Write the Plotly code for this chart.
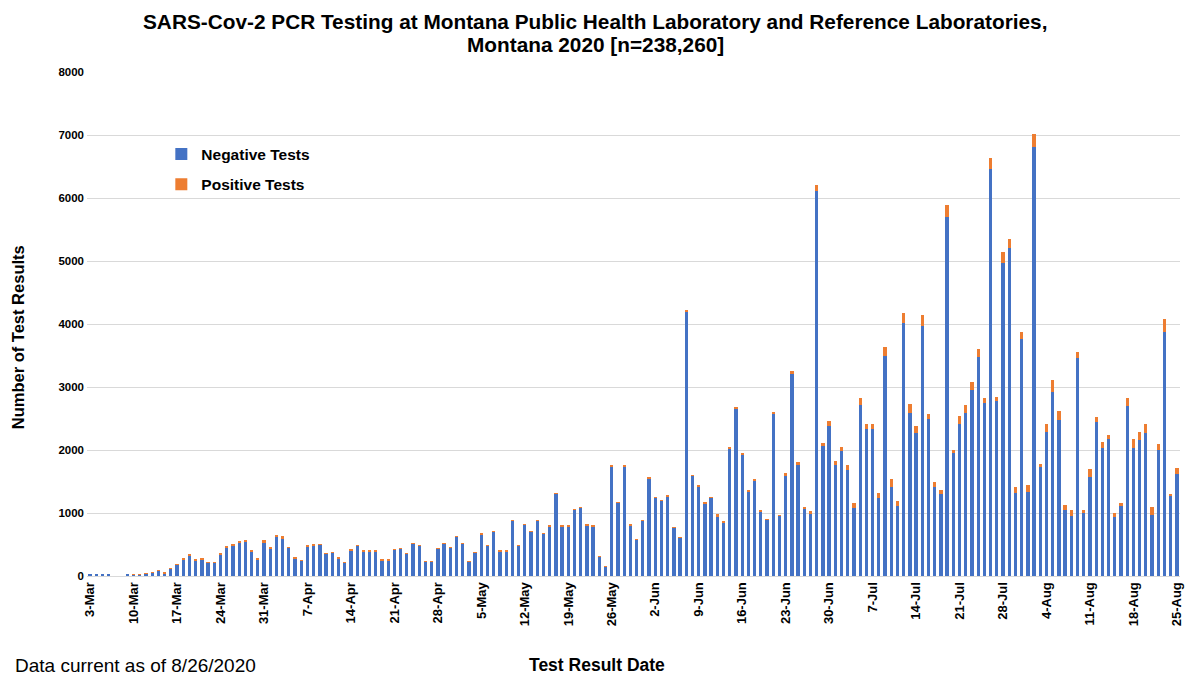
import pandas as pd
import plotly.graph_objects as go

dates = pd.date_range("2020-03-03", "2020-08-25", freq="D")

negative = [
    20, 20, 20, 20, 0, 0, 20, 24, 29, 38, 57, 80, 47, 114, 177, 260, 333, 245, 265, 212, 207, 345, 452, 490, 525, 545, 385, 268,
    535, 440, 630, 600, 445, 282, 242, 470, 490, 493, 350, 367, 284, 210, 407, 477, 394, 394, 395, 252, 252, 420, 435, 356, 515, 481, 228, 228,
    436, 516, 457, 620, 517, 226, 372, 662, 477, 705, 394, 395, 873, 477, 820, 700, 873, 674, 790, 1307, 790, 790, 1058, 1080, 806, 791, 315,
    147, 1745, 1164, 1745, 806, 579, 874, 1555, 1243, 1200, 1264, 763, 605, 4200, 1595, 1426, 1156, 1239, 944,
    842, 2017, 2658, 1935, 1339, 1515, 1018, 889, 2573, 953, 1590, 3209, 1765, 1061, 982, 6116, 2076, 2381,
    1760, 1983, 1682, 1083, 2715, 2327, 2327, 1233, 3490, 1419, 1115, 4010, 2595, 2276, 3968, 2486, 1407, 1295,
    5704, 1950, 2413, 2594, 2954, 3483, 2750, 6455, 2777, 4963, 5199, 1323, 3763, 1339, 6816, 1738,
    2292, 2926, 2479, 1047, 948, 3455, 998, 1578, 2449, 2027, 2173, 930, 1113, 2705, 2025, 2160, 2267, 970, 2000, 3879, 1262, 1615,
]

positive = [
    0, 0, 0, 0, 0, 0, 0, 1, 1, 2, 3, 5, 3, 6, 8, 10, 12, 10, 10, 8, 8, 15, 18, 20, 25, 30, 15, 12,
    30, 20, 25, 30, 15, 8, 8, 15, 15, 12, 10, 8, 6, 5, 8, 8, 6, 6, 5, 3, 3, 5, 5, 4, 5, 4, 2, 2,
    4, 4, 3, 5, 3, 2, 3, 5, 3, 5, 3, 2, 5, 3, 5, 4, 5, 3, 4, 5, 4, 4, 5, 5, 4, 3, 2,
    1, 6, 5, 6, 4, 3, 4, 6, 6, 6, 6, 4, 3, 12, 8, 8, 8, 10, 35,
    20, 25, 30, 12, 15, 25, 30, 10, 35, 15, 40, 50, 50, 40, 50, 90, 30, 85,
    65, 70, 80, 70, 105, 80, 80, 90, 150, 115, 75, 170, 130, 105, 175, 85, 80, 70,
    185, 50, 127, 120, 120, 115, 70, 185, 70, 175, 150, 95, 105, 105, 195, 40,
    115, 185, 140, 80, 100, 95, 50, 120, 80, 105, 65, 75, 40, 115, 150, 120, 140, 120, 95, 195, 40, 105,
]

tick_dates = pd.date_range("2020-03-03", "2020-08-25", freq="7D")
tick_labels = ["3-Mar", "10-Mar", "17-Mar", "24-Mar", "31-Mar", "7-Apr", "14-Apr", "21-Apr", "28-Apr",
               "5-May", "12-May", "19-May", "26-May", "2-Jun", "9-Jun", "16-Jun", "23-Jun", "30-Jun",
               "7-Jul", "14-Jul", "21-Jul", "28-Jul", "4-Aug", "11-Aug", "18-Aug", "25-Aug"]

y_ticks = [0, 1000, 2000, 3000, 4000, 5000, 6000, 7000, 8000]

title_line1 = "SARS-Cov-2 PCR Testing at Montana Public Health Laboratory and Reference Laboratories,"
title_line2 = "Montana 2020 [n=238,260]"

FONT = "Liberation Sans, Arial, sans-serif"

fig = go.Figure()
fig.add_trace(go.Bar(x=dates, y=negative, name="<b>Negative Tests</b>",
                     marker=dict(color="#4472C4", line=dict(width=0)), legendgroup="n"))
fig.add_trace(go.Bar(x=dates, y=positive, name="<b>Positive Tests</b>",
                     marker=dict(color="#ED7D31", line=dict(width=0)), legendgroup="p"))

L, R, T, B = 87, 12, 72, 101
PW = 1196 - L - R
PH = 677 - T - B

def px_x(x):
    return (x - L) / PW

def px_y(y):
    return (677 - B - y) / PH

fig.update_layout(
    width=1196, height=677,
    barmode="stack", bargap=0.47,
    paper_bgcolor="white", plot_bgcolor="white",
    margin=dict(l=L, r=R, t=T, b=B),
    font=dict(family=FONT, color="black"),
    legend=dict(
        x=0.068, y=0.87, xanchor="left", yanchor="top",
        font=dict(size=15.5, family=FONT, color="black"),
        traceorder="grouped", tracegroupgap=7,
        bgcolor="rgba(0,0,0,0)",
    ),
    xaxis=dict(
        type="date",
        range=["2020-03-02 12:00", "2020-08-25 12:00"],
        tickmode="array", tickvals=list(tick_dates), ticktext=["<b>%s</b>" % t for t in tick_labels],
        tickangle=-90, tickfont=dict(size=13, family=FONT, color="black"),
        showgrid=False, showline=True, linecolor="#D9D9D9", linewidth=1,
        ticks="", zeroline=False,
    ),
    yaxis=dict(
        range=[0, 8000], tickmode="array", tickvals=y_ticks,
        ticktext=["<b>%d</b>" % v for v in y_ticks],
        tickfont=dict(size=11.5, family=FONT, color="black"),
        showgrid=True, gridcolor="#D9D9D9", gridwidth=1,
        zeroline=False, showline=False, ticks="", ticklabelstandoff=2,
    ),
    annotations=[
        dict(text="<b>%s</b>" % title_line1, xref="paper", yref="paper",
             x=px_x(597), y=px_y(22), xanchor="center", yanchor="middle",
             showarrow=False, font=dict(size=20.8, family=FONT, color="black")),
        dict(text="<b>%s</b>" % title_line2, xref="paper", yref="paper",
             x=px_x(597), y=px_y(45), xanchor="center", yanchor="middle",
             showarrow=False, font=dict(size=20.8, family=FONT, color="black")),
        dict(text="<b>Number of Test Results</b>", xref="paper", yref="paper",
             x=px_x(18), y=px_y(337), xanchor="center", yanchor="middle", textangle=-90,
             showarrow=False, font=dict(size=16.5, family=FONT, color="black")),
        dict(text="<b>Test Result Date</b>", xref="paper", yref="paper",
             x=px_x(599), y=px_y(665), xanchor="center", yanchor="middle",
             showarrow=False, font=dict(size=17.5, family=FONT, color="black")),
        dict(text="Data current as of 8/26/2020", xref="paper", yref="paper",
             x=px_x(13), y=px_y(665), xanchor="left", yanchor="middle",
             showarrow=False, font=dict(size=19, family=FONT, color="black")),
    ],
)

fig.write_html("out.html", config={"displayModeBar": False},
               post_script="document.body.style.margin='0';document.body.style.overflow='hidden';")
